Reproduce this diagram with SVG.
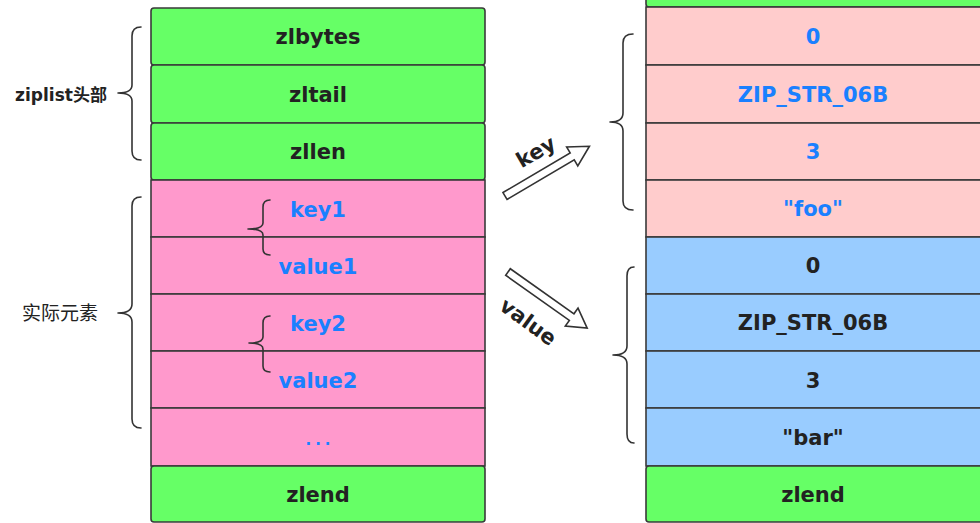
<svg xmlns="http://www.w3.org/2000/svg" width="980" height="523" viewBox="0 0 980 523">
  <style>
    .cell { stroke: #3a3a3a; stroke-width: 1.6; }
    .g { fill: #66ff66; }
    .p { fill: #ff99cc; }
    .lp { fill: #ffcccc; }
    .b { fill: #99ccff; }
    .t { font-family: "DejaVu Sans", "Liberation Sans", sans-serif; font-weight: bold; font-size: 21px; text-anchor: middle; dominant-baseline: central; }
    .dark { fill: #222222; }
    .blue { fill: #1a80ff; }
    .brace { fill: none; stroke: #333333; stroke-width: 1.6; stroke-linecap: round; stroke-linejoin: round; }
    .arrow { fill: #ffffff; stroke: #333333; stroke-width: 1.6; stroke-linejoin: miter; }
    .lbl { font-family: "DejaVu Sans", "Liberation Sans", "Noto Sans CJK SC", sans-serif; font-size: 17px; fill: #222222; text-anchor: middle; dominant-baseline: central; }
  </style>
  <rect width="980" height="523" fill="#ffffff"/>

  <!-- ziplist layout -->
  <g id="left-list">
    <g id="zlbytes"><rect class="cell g" x="151" y="8" width="334" height="57" rx="3"/><text class="t dark" x="318" y="37">zlbytes</text></g>
    <g id="zltail"><rect class="cell g" x="151" y="65" width="334" height="58" rx="3"/><text class="t dark" x="318" y="95">zltail</text></g>
    <g id="zllen"><rect class="cell g" x="151" y="123" width="334" height="57" rx="3"/><text class="t dark" x="318" y="152">zllen</text></g>
    <g id="key1"><rect class="cell p" x="151" y="180" width="334" height="57"/><text class="t blue" x="318" y="210">key1</text></g>
    <g id="value1"><rect class="cell p" x="151" y="237" width="334" height="57"/><text class="t blue" x="318" y="267">value1</text></g>
    <g id="key2"><rect class="cell p" x="151" y="294" width="334" height="57"/><text class="t blue" x="318" y="324">key2</text></g>
    <g id="value2"><rect class="cell p" x="151" y="351" width="334" height="57"/><text class="t blue" x="318" y="381">value2</text></g>
    <g id="more"><rect class="cell p" x="151" y="408" width="334" height="58"/><text class="t blue" x="320" y="440" style="font-size:15px;letter-spacing:4px">...</text></g>
    <g id="zlend-left"><rect class="cell g" x="151" y="466" width="334" height="56" rx="3"/><text class="t dark" x="318" y="495">zlend</text></g>
  </g>

  <!-- entry layout -->
  <g id="right-list">
    <g id="zl-top"><rect class="cell g" x="646" y="-20" width="340" height="27" rx="3"/></g>
    <g id="k-prevlen"><rect class="cell lp" x="646" y="7" width="340" height="58"/><text class="t blue" x="813" y="37">0</text></g>
    <g id="k-enc"><rect class="cell lp" x="646" y="65" width="340" height="58"/><text class="t blue" x="813" y="95">ZIP_STR_06B</text></g>
    <g id="k-len"><rect class="cell lp" x="646" y="123" width="340" height="57"/><text class="t blue" x="813" y="152">3</text></g>
    <g id="k-data"><rect class="cell lp" x="646" y="180" width="340" height="57"/><text class="t blue" x="813" y="209">"foo"</text></g>
    <g id="v-prevlen"><rect class="cell b" x="646" y="237" width="340" height="57"/><text class="t dark" x="813" y="266">0</text></g>
    <g id="v-enc"><rect class="cell b" x="646" y="294" width="340" height="57"/><text class="t dark" x="813" y="323">ZIP_STR_06B</text></g>
    <g id="v-len"><rect class="cell b" x="646" y="351" width="340" height="57"/><text class="t dark" x="813" y="381">3</text></g>
    <g id="v-data"><rect class="cell b" x="646" y="408" width="340" height="58"/><text class="t dark" x="813" y="438">"bar"</text></g>
    <g id="zlend-right"><rect class="cell g" x="646" y="466" width="340" height="56" rx="3"/><text class="t dark" x="813" y="495">zlend</text></g>
  </g>

  <!-- braces and labels -->
  <g id="braces">
    <path class="brace" d="M141,27 Q132,27 132,36 L132,85 Q132,93 118,93 Q132,93 132,101 L132,151 Q132,160 141,160"/>
    <text class="lbl" x="61" y="95" style="font-weight:bold">ziplist头部</text>
    <path class="brace" d="M141,197 Q132,197 132,206 L132,304 Q132,313 118,313 Q132,313 132,322 L132,419 Q132,428 141,428"/>
    <text class="lbl" x="60" y="313" style="font-size:19px">实际元素</text>
    <path class="brace" d="M270,200 Q263,200 263,207 L263,223 Q263,229 248,229 Q263,229 263,235 L263,249 Q263,255 270,255"/>
    <path class="brace" d="M270,316 Q263,316 263,323 L263,337 Q263,343 249,343 Q263,343 263,349 L263,366 Q263,372 270,372"/>
    <path class="brace" d="M633,34 Q623,34 623,43 L623,113 Q623,122 610,122 Q623,122 623,131 L623,201 Q623,210 633,210"/>
    <path class="brace" d="M634,267 Q627,267 627,276 L627,346 Q627,355 613,355 Q627,355 627,364 L627,434 Q627,443 634,443"/>
  </g>

  <!-- connectors -->
  <g id="connectors">
    <g id="key-arrow">
      <polygon class="arrow" transform="translate(505,196) rotate(-30.5)" points="0,-4 78,-4 78,-11 98,0 78,11 78,4 0,4"/>
      <text class="t dark" font-size="18" transform="translate(536,152) rotate(-30)">key</text>
    </g>
    <g id="value-arrow">
      <polygon class="arrow" transform="translate(508,272) rotate(35.3)" points="0,-4 78,-4 78,-11 97,0 78,11 78,4 0,4"/>
      <text class="t dark" font-size="18" transform="translate(528,322) rotate(36)">value</text>
    </g>
  </g>
</svg>
